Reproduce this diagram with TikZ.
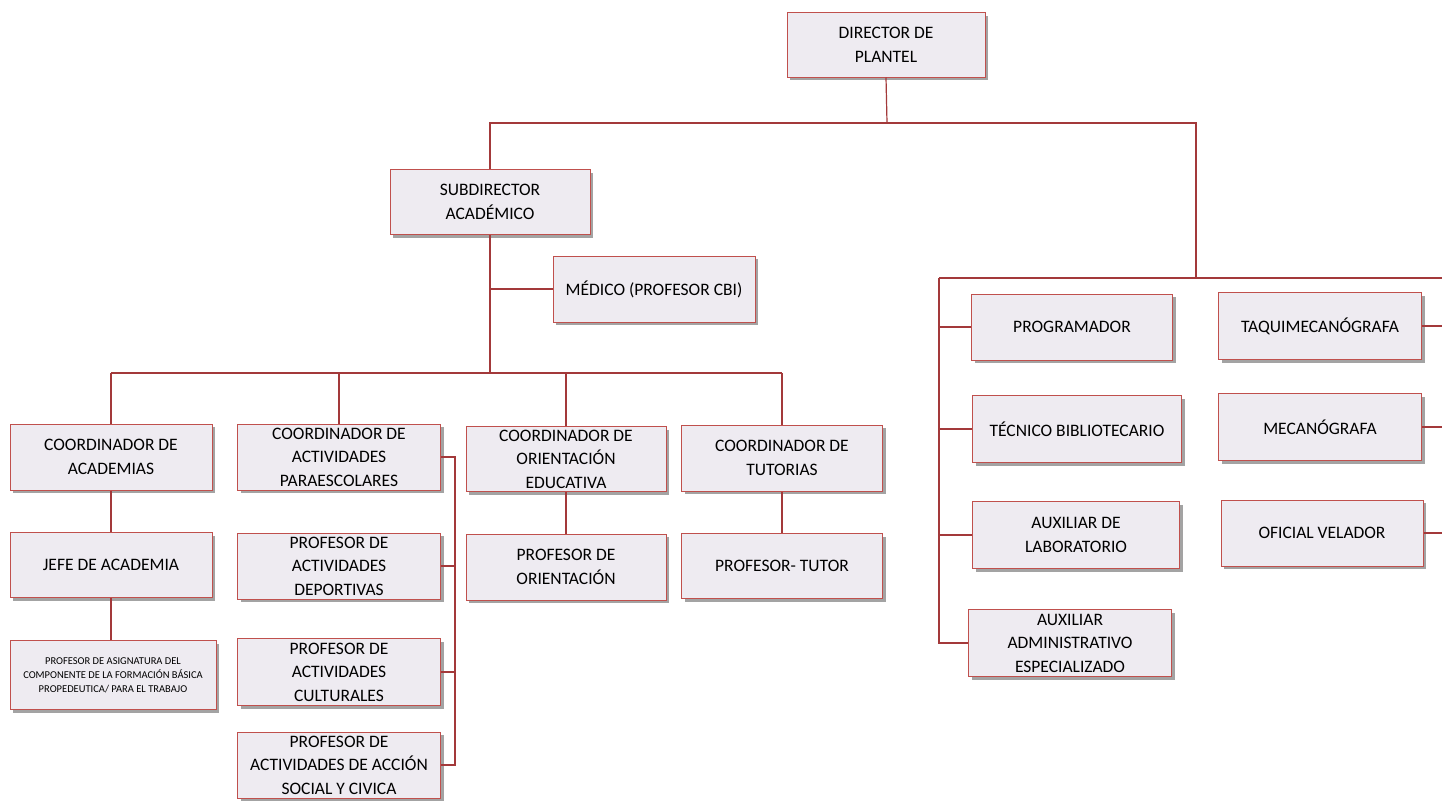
\documentclass[tikz,border=0pt]{standalone}
\usepackage{fontspec}
\setmainfont{Carlito}
\usetikzlibrary{shadows}
\definecolor{boxred}{HTML}{C0504D}
\definecolor{linered}{HTML}{A3393A}
\definecolor{boxfill}{HTML}{EEEBF1}
\tikzset{
  puesto/.style={draw=boxred, fill=boxfill, line width=1pt, align=center, inner sep=0pt,
    font=\fontsize{17.5}{23.5}\selectfont,
    drop shadow={shadow xshift=3pt, shadow yshift=-3pt, fill=gray!80, opacity=0.9}},
  conn/.style={linered, line width=1.2pt}
}
\begin{document}
\begin{tikzpicture}[x=1pt,y=-1pt]
 		\fill[white] (0,0) rectangle (1442,800);
 		\useasboundingbox (0,0) rectangle (1442,800);
 		% direccion
 		\node[puesto, minimum width=198pt, minimum height=64pt] (dir) at (886,45) {DIRECTOR DE\\PLANTEL};
 		\node[puesto, minimum width=200pt, minimum height=65pt] (sub) at (490,202) {SUBDIRECTOR\\ACADÉMICO};
 		\node[puesto, minimum width=202pt, minimum height=66pt] (med) at (654,289) {MÉDICO (PROFESOR CBI)};
 		% coordinadores
 		\node[puesto, minimum width=202pt, minimum height=66pt] (coac) at (111,457) {COORDINADOR DE\\ACADEMIAS};
 		\node[puesto, minimum width=203pt, minimum height=66pt] (copa) at (339,457) {COORDINADOR DE\\ACTIVIDADES\\PARAESCOLARES};
 		\node[puesto, minimum width=200pt, minimum height=65pt] (coor) at (566,459) {COORDINADOR DE\\ORIENTACIÓN\\EDUCATIVA};
 		\node[puesto, minimum width=201pt, minimum height=66pt] (cotu) at (782,458) {COORDINADOR DE\\TUTORIAS};
 		\node[puesto, minimum width=202pt, minimum height=65pt] (jefe) at (111,565) {JEFE DE ACADEMIA};
 		\node[puesto, minimum width=206pt, minimum height=69pt, font=\fontsize{10.5}{14}\selectfont] (asig) at (113,675) {PROFESOR DE ASIGNATURA DEL\\COMPONENTE DE LA FORMACIÓN BÁSICA\\PROPEDEUTICA/ PARA EL TRABAJO};
 		\node[puesto, minimum width=203pt, minimum height=66pt] (pdep) at (339,566) {PROFESOR DE\\ACTIVIDADES\\DEPORTIVAS};
 		\node[puesto, minimum width=203pt, minimum height=67pt] (pcul) at (339,672) {PROFESOR DE\\ACTIVIDADES\\CULTURALES};
 		\node[puesto, minimum width=203pt, minimum height=66pt] (pacc) at (339,765) {PROFESOR DE\\ACTIVIDADES DE ACCIÓN\\SOCIAL Y CIVICA};
 		\node[puesto, minimum width=200pt, minimum height=66pt] (porie) at (566,567) {PROFESOR DE\\ORIENTACIÓN};
 		\node[puesto, minimum width=201pt, minimum height=65pt] (ptut) at (782,566) {PROFESOR- TUTOR};
 		% apoyo
 		\node[puesto, minimum width=201pt, minimum height=66pt] (prog) at (1072,327) {PROGRAMADOR};
 		\node[puesto, minimum width=209pt, minimum height=67pt] (tecb) at (1077,429) {TÉCNICO BIBLIOTECARIO};
 		\node[puesto, minimum width=207pt, minimum height=67pt] (auxl) at (1076,535) {AUXILIAR DE\\LABORATORIO};
 		\node[puesto, minimum width=203pt, minimum height=67pt] (auxa) at (1070,643) {AUXILIAR\\ADMINISTRATIVO\\ESPECIALIZADO};
 		\node[puesto, minimum width=203pt, minimum height=67pt] (taqu) at (1320,326) {TAQUIMECANÓGRAFA};
 		\node[puesto, minimum width=203pt, minimum height=67pt] (meca) at (1320,427) {MECANÓGRAFA};
 		\node[puesto, minimum width=202pt, minimum height=66pt] (ofic) at (1322,533) {OFICIAL VELADOR};
 		% lineas
 		\coordinate (topbus) at (887,123);
 		\coordinate (rb1) at (1196,123);
 		\coordinate (rb2) at (1196,278);
 		\coordinate (rl) at (939,278);
 		\coordinate (redge) at (1442,278);
 		\coordinate (bl) at (111,373);
 		\coordinate (br) at (782,373);
 		\coordinate (pbx) at (455,457);
 		\draw[conn] (dir.south) -- (topbus);
 		\draw[conn] (sub.north) |- (rb1) -- (rb2);
 		\draw[conn] (rl) -- (redge);
 		\draw[conn] (sub.south) -- (sub.south |- bl);
 		\draw[conn] (sub.south |- med.west) -- (med.west);
 		\draw[conn] (bl) -- (br);
 		\draw[conn] (bl) -- (coac.north);
 		\draw[conn] (copa.north |- bl) -- (copa.north);
 		\draw[conn] (coor.north |- bl) -- (coor.north);
 		\draw[conn] (br) -- (cotu.north);
 		\draw[conn] (coac.south) -- (jefe.north);
 		\draw[conn] (jefe.south) -- (jefe.south |- asig.north);
 		\draw[conn] (coor.south) -- (porie.north);
 		\draw[conn] (cotu.south) -- (ptut.north);
 		\draw[conn] (copa.east) -- (pbx) |- (pacc.east);
 		\draw[conn] (pdep.east) -- (pdep.east -| pbx);
 		\draw[conn] (pcul.east) -- (pcul.east -| pbx);
 		\draw[conn] (rl) |- (auxa.west);
 		\draw[conn] (prog.west -| rl) -- (prog.west);
 		\draw[conn] (tecb.west -| rl) -- (tecb.west);
 		\draw[conn] (auxl.west -| rl) -- (auxl.west);
 		\draw[conn] (taqu.east) -- (taqu.east -| redge);
 		\draw[conn] (meca.east) -- (meca.east -| redge);
 		\draw[conn] (ofic.east) -- (ofic.east -| redge);
 	\end{tikzpicture}
\end{document}
